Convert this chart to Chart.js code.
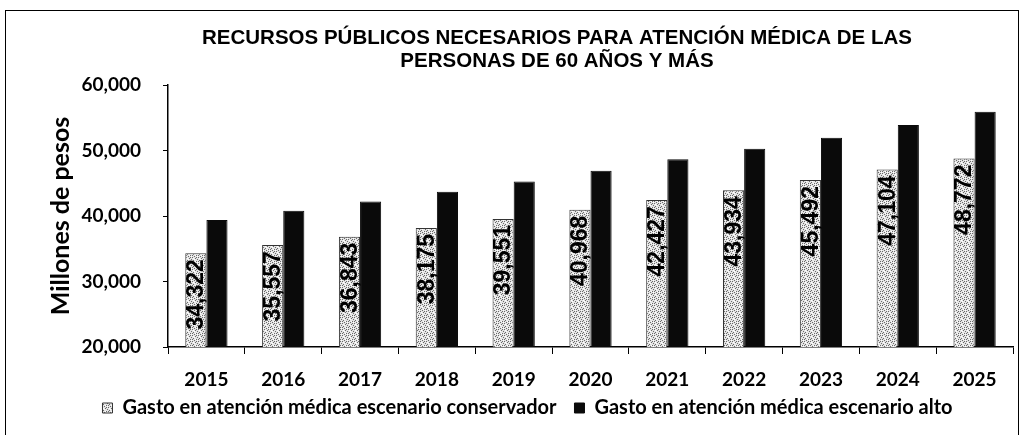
<!DOCTYPE html>
<html>
<head>
<meta charset="utf-8">
<script src="https://cdn.jsdelivr.net/npm/chart.js@4"></script>
<style>
  body { margin: 0; background: #fff; }
  #frame {
    position: absolute; left: 5px; top: 10px;
    width: 1012px; height: 440px;
    border: 1.5px solid #000; border-bottom: none;
  }
  #chart { display: block; }
</style>
</head>
<body>
<div id="frame"><canvas id="chart" width="1012" height="424"></canvas></div>
<script>
// Data
const years = ["2015", "2016", "2017", "2018", "2019", "2020", "2021", "2022", "2023", "2024", "2025"];
const conservador = [34322, 35557, 36843, 38175, 39551, 40968, 42427, 43934, 45492, 47104, 48772];
const alto = [39400, 40800, 42200, 43700, 45250, 46900, 48650, 50250, 51950, 53900, 55900];
const yTicks = [20000, 30000, 40000, 50000, 60000];
const titleLines = ["RECURSOS PÚBLICOS NECESARIOS PARA ATENCIÓN MÉDICA DE LAS", "PERSONAS DE 60 AÑOS Y MÁS"];

// speckled fill for the conservative bars
function speckle() {
  const c = document.createElement("canvas");
  c.width = 6; c.height = 6;
  const g = c.getContext("2d");
  g.fillStyle = "#e4e4e4";
  g.fillRect(0, 0, 6, 6);
  g.fillStyle = "#6a6a6a";
  [[0, 0], [3, 1], [1, 3], [4, 4], [5, 2], [2, 5], [0, 4], [4, 0]].forEach(p => g.fillRect(p[0], p[1], 1, 1));
  g.fillStyle = "#fff";
  [[2, 2], [5, 5], [1, 1], [3, 4]].forEach(p => g.fillRect(p[0], p[1], 1, 1));
  return g.createPattern(c, "repeat");
}

// title drawn by hand so it can sit off-centre like the scan
const titlePlugin = {
  id: "scanTitle",
  afterDraw(chart) {
    const ctx = chart.ctx;
    ctx.save();
    ctx.fillStyle = "#000";
    ctx.font = "bold 20.5px 'Liberation Sans', Arial, sans-serif";
    ctx.textAlign = "center";
    ctx.textBaseline = "middle";
    ctx.fillText(titleLines[0], 551, 27);
    ctx.fillText(titleLines[1], 551, 50);
    ctx.restore();
  }
};

// legend sits tight under the year labels, a bit right of centre
const legendNudge = {
  id: "legendNudge",
  afterLayout(chart) {
    const lg = chart.legend;
    lg.top -= 11;
    lg.bottom -= 11;
    lg.left += 18;
    lg.right += 18;
  }
};

// rotated value labels inside the light bars
const valueLabels = {
  id: "valueLabels",
  afterDatasetsDraw(chart) {
    const ctx = chart.ctx;
    const meta = chart.getDatasetMeta(0);
    ctx.save();
    ctx.fillStyle = "#000";
    ctx.font = "bold 23px 'Liberation Sans', Arial, sans-serif";
    ctx.textAlign = "right";
    ctx.textBaseline = "middle";
    meta.data.forEach((bar, i) => {
      ctx.save();
      ctx.translate(bar.x + 1, bar.y + 6);
      ctx.rotate(-Math.PI / 2);
      ctx.fillText(conservador[i].toLocaleString("en-US"), 0, 0);
      ctx.restore();
    });
    ctx.restore();
  }
};

const tickFont = { family: "Lato, 'Open Sans', sans-serif", size: 19, weight: "bold" };

new Chart(document.getElementById("chart"), {
  type: "bar",
  data: {
    labels: years,
    datasets: [
      {
        label: "Gasto en atención médica escenario conservador",
        data: conservador,
        backgroundColor: speckle(),
        borderColor: "#333",
        borderWidth: 1,
        barPercentage: 1,
        categoryPercentage: 0.55
      },
      {
        label: "Gasto en atención médica escenario alto",
        data: alto,
        backgroundColor: "#0a0a0a",
        borderColor: "#0a0a0a",
        borderWidth: 1,
        barPercentage: 1,
        categoryPercentage: 0.55
      }
    ]
  },
  options: {
    responsive: false,
    animation: false,
    layout: { padding: { top: 74, right: 5, bottom: -4, left: 0 } },
    plugins: {
      title: { display: false },
      tooltip: { enabled: false },
      legend: {
        position: "bottom",
        labels: {
          color: "#000",
          font: { family: "Lato, 'Open Sans', sans-serif", size: 20, weight: "bold" },
          boxWidth: 10,
          boxHeight: 10,
          padding: 18
        }
      }
    },
    scales: {
      x: {
        afterFit(s) { s.height = 44; },
        grid: { drawOnChartArea: false, drawTicks: true, tickLength: 7, color: "#000" },
        border: { color: "#000", width: 1.5 },
        ticks: { color: "#000", font: tickFont, padding: 14 }
      },
      y: {
        min: 20000,
        max: 60000,
        afterFit(s) { s.width = 162; },
        afterBuildTicks(s) { s.ticks = yTicks.map(v => ({ value: v })); },
        grid: { drawOnChartArea: false, drawTicks: true, tickLength: 5, color: "#000" },
        border: { color: "#000", width: 1.5 },
        ticks: {
          color: "#000",
          font: tickFont,
          padding: 22,
          callback: v => v.toLocaleString("en-US")
        },
        title: {
          display: true,
          text: "Millones de pesos",
          color: "#000",
          font: { family: "Lato, 'Open Sans', sans-serif", size: 25, weight: "bold" },
          padding: { top: 40, bottom: 0 }
        }
      }
    }
  },
  plugins: [titlePlugin, legendNudge, valueLabels]
});
</script>
</body>
</html>
